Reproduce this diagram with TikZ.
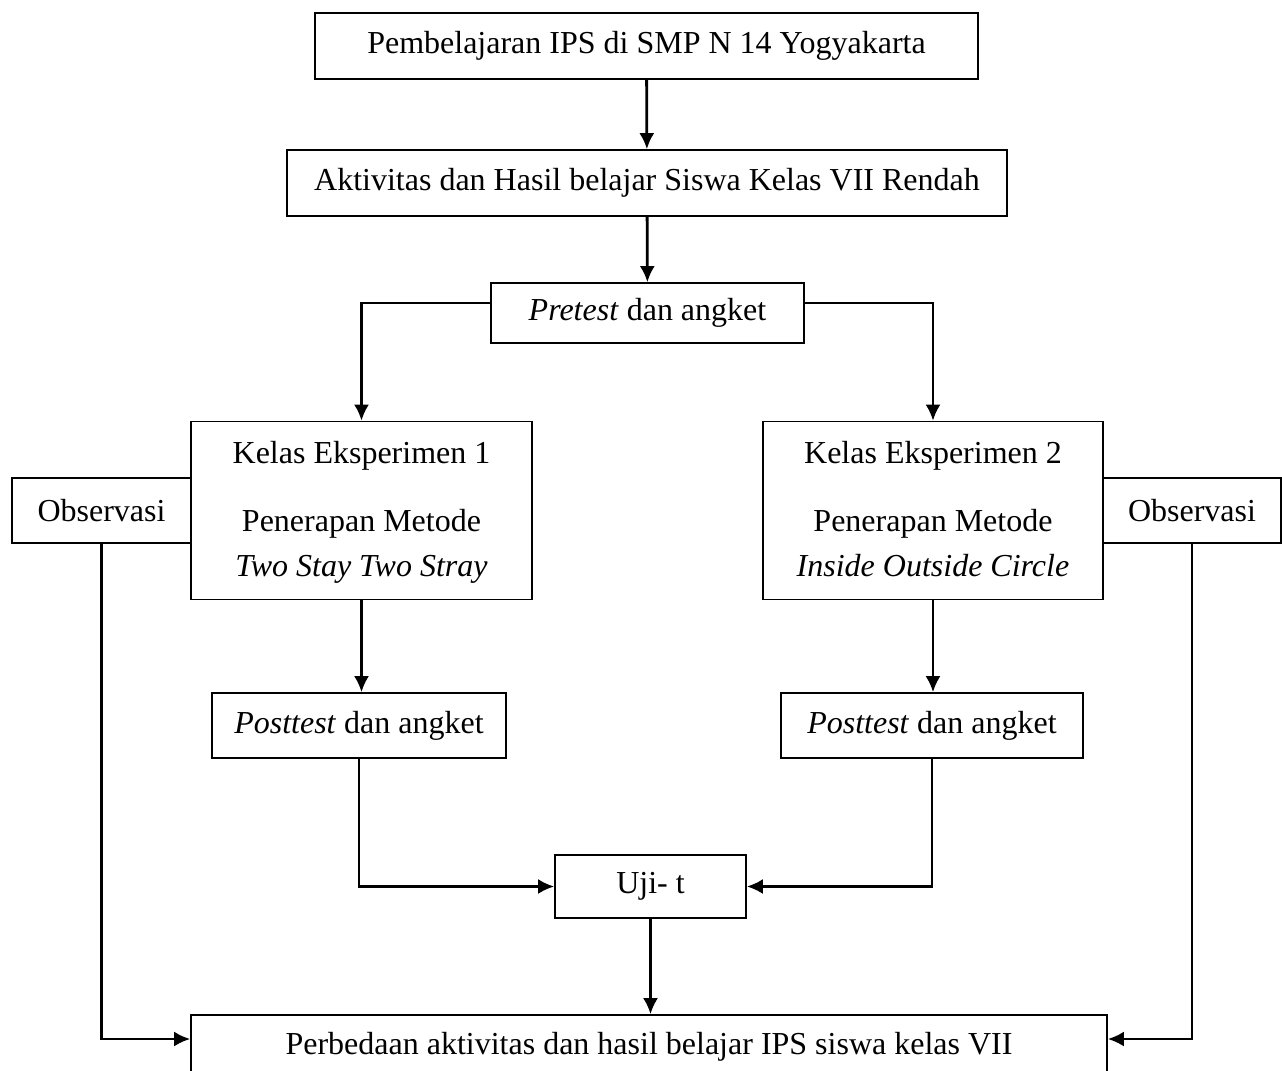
\documentclass[tikz,border=0pt]{standalone}
\usepackage{fontspec}
\setmainfont{Liberation Serif}
\usetikzlibrary{arrows.meta}
\begin{document}
\begin{tikzpicture}[x=0.5pt,y=-0.5pt,
			kotak/.style={draw, line width=0.8pt, align=center, inner sep=0pt, font=\fontsize{16}{22.5}\selectfont},
			panah/.style={-{Latex[length=8pt,width=7.5pt]}, line width=1.4pt}
		]
		\useasboundingbox (0,0) rectangle (1282,1071);
		\clip (0,0) rectangle (1282,1071);

		\node[kotak, minimum width=331.5pt, minimum height=33pt] (ips) at (646.5,46) {Pembelajaran IPS di SMP N 14 Yogyakarta};
		\node[kotak, minimum width=360pt, minimum height=33pt] (akt) at (647,183) {Aktivitas dan Hasil belajar Siswa Kelas VII Rendah};
		\node[kotak, minimum width=156.5pt, minimum height=30pt] (pre) at (647.5,313) {\textit{Pretest} dan angket};

		\node[kotak, minimum width=170.5pt, minimum height=89pt] (kls1) at (361.5,510.5) {\strut Kelas Eksperimen 1\\[11.5pt] Penerapan Metode\\ \textit{Two Stay Two Stray}\strut};
		\node[kotak, minimum width=170pt, minimum height=89pt] (kls2) at (933,510.5) {\strut Kelas Eksperimen 2\\[11.5pt] Penerapan Metode\\ \textit{Inside Outside Circle}\strut};
		\node[kotak, minimum width=89.5pt, minimum height=32.5pt] (obs1) at (101.5,510.5) {Observasi};
		\node[kotak, minimum width=89pt, minimum height=32.5pt] (obs2) at (1192,510.5) {Observasi};

		\node[kotak, minimum width=147pt, minimum height=32.5pt] (post1) at (359,725.5) {\textit{Posttest} dan angket};
		\node[kotak, minimum width=151pt, minimum height=32.5pt] (post2) at (932,725.5) {\textit{Posttest} dan angket};
		\node[kotak, minimum width=95.5pt, minimum height=31.5pt] (uji) at (650.5,886.5) {Uji- t};
		\node[kotak, minimum width=458pt, minimum height=32pt] (hasil) at (649,1047) {Perbedaan aktivitas dan hasil belajar IPS siswa kelas VII};

		\draw[panah] (ips) -- (akt);
		\draw[panah] (akt) -- (pre);
		\draw[panah] ([yshift=5pt]pre.west) -| (kls1);
		\draw[panah] ([yshift=5pt]pre.east) -| (kls2);
		\draw[panah] (kls1.south) -- (kls1.south |- post1.north);
		\draw[panah] (kls2.south) -- (kls2.south |- post2.north);
		\draw[panah] (post1) |- (uji);
		\draw[panah] (post2) |- (uji);
		\draw[panah] (uji.south) -- (uji.south |- hasil.north);
		\draw[panah] (obs1) |- ([yshift=4pt]hasil.west);
		\draw[panah] (obs2) |- ([yshift=4pt]hasil.east);

	\end{tikzpicture}
\end{document}
